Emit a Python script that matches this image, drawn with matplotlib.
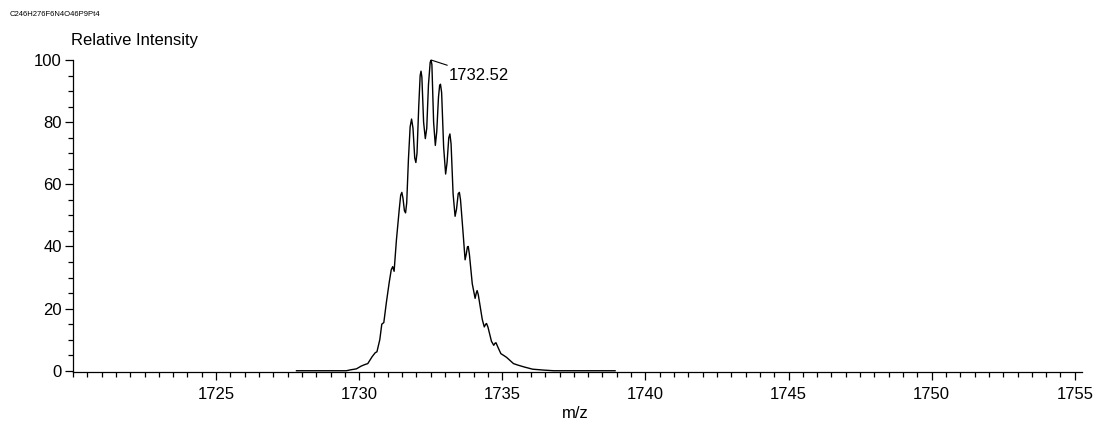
import matplotlib
matplotlib.use('Agg')
import matplotlib.pyplot as plt
from matplotlib.ticker import MultipleLocator, FixedLocator

plt.rcParams['font.family'] = ['Liberation Sans', 'DejaVu Sans']

# 同位素峰轮廓 (m/z, 相对强度)，从图上读出的点
mz = [1727.81, 1729.55, 1729.70, 1729.90, 1730.07, 1730.20, 1730.30, 1730.45,
      1730.56, 1730.62, 1730.72, 1730.79, 1730.86, 1730.95, 1731.05, 1731.12,
      1731.17, 1731.22, 1731.30, 1731.40, 1731.45, 1731.49, 1731.53, 1731.58,
      1731.62, 1731.66, 1731.72, 1731.78, 1731.83, 1731.88, 1731.94, 1731.98,
      1732.02, 1732.08, 1732.13, 1732.16, 1732.19, 1732.25, 1732.31, 1732.36,
      1732.42, 1732.48, 1732.51, 1732.54, 1732.60, 1732.66, 1732.71, 1732.77,
      1732.81, 1732.84, 1732.88, 1732.95, 1733.02, 1733.07, 1733.13, 1733.17,
      1733.21, 1733.28, 1733.35, 1733.40, 1733.46, 1733.50, 1733.54, 1733.62,
      1733.70, 1733.74, 1733.78, 1733.81, 1733.85, 1733.95, 1734.05, 1734.09,
      1734.12, 1734.16, 1734.30, 1734.37, 1734.42, 1734.45, 1734.50, 1734.62,
      1734.70, 1734.75, 1734.78, 1734.85, 1734.95, 1735.07, 1735.15, 1735.39,
      1735.55, 1735.77, 1736.06, 1736.46, 1736.80, 1738.94]
intensity = [0, 0, 0.3, 0.6, 1.5, 2.0, 2.3, 4.5,
             5.8, 6.1, 10, 15.0, 15.5, 22, 28.5, 32.5,
             33.5, 32, 42, 52, 56.5, 57.4, 55.5, 51.5,
             50.8, 54, 68, 78.5, 81, 78, 68.5, 67,
             70, 85, 95, 96.4, 94.5, 80, 74.7, 78,
             92, 99.2, 100, 98.5, 80, 72.5, 77, 88,
             91.8, 92.2, 89.5, 72, 63.3, 67, 75, 76.2,
             73, 57, 49.7, 52, 57, 57.4, 55, 45.5,
             35.7, 37.5, 39.8, 40, 37.5, 28, 23.3, 25,
             25.8, 24.5, 16.5, 14.1, 15, 15.2, 14, 9.5,
             8.2, 8.9, 9.0, 7.5, 5.5, 4.8, 4.3, 2.3,
             1.8, 1.2, 0.5, 0.2, 0, 0]

peak_mz = 1732.51
peak_label = '1732.52'
formula = 'C246H276F6N4O46P9Pt4'
x_major = [1725, 1730, 1735, 1740, 1745, 1750, 1755]

fig = plt.figure(figsize=(11.02, 4.30), dpi=100)
ax = fig.add_axes([0.0662, 0.1349, 0.9156, 0.7256])

ax.plot(mz, intensity, color='black', lw=1.0)

ax.set_xlim(1720.0, 1755.25)
ax.set_ylim(-0.4, 100)
ax.xaxis.set_major_locator(FixedLocator(x_major))
ax.xaxis.set_minor_locator(MultipleLocator(0.5))
ax.yaxis.set_major_locator(MultipleLocator(20))
ax.yaxis.set_minor_locator(MultipleLocator(5))
ax.tick_params(which='major', length=6, width=0.9, labelsize=12, direction='out')
ax.tick_params(which='minor', length=3.5, width=0.9, direction='out')
ax.tick_params(axis='x', pad=5)
ax.tick_params(axis='y', pad=2)

for s in ['top', 'right']:
    ax.spines[s].set_visible(False)
for s in ['left', 'bottom']:
    ax.spines[s].set_linewidth(0.9)

# 标注最高峰
ax.annotate(peak_label, xy=(peak_mz, 100), xytext=(peak_mz + 0.62, 95.0),
            fontsize=12, va='center', ha='left',
            arrowprops=dict(arrowstyle='-', color='black', lw=0.8,
                            shrinkA=0, shrinkB=0))

fig.text(71 / 1102, 1 - 40 / 430, 'Relative Intensity', fontsize=12,
         ha='left', va='center')
fig.text(575 / 1102, 1 - 413 / 430, 'm/z', fontsize=12, ha='center', va='center')
fig.text(10 / 1102, 1 - 14 / 430, formula, fontsize=5.5, ha='left', va='center')

fig.savefig('out.png', dpi=100)
